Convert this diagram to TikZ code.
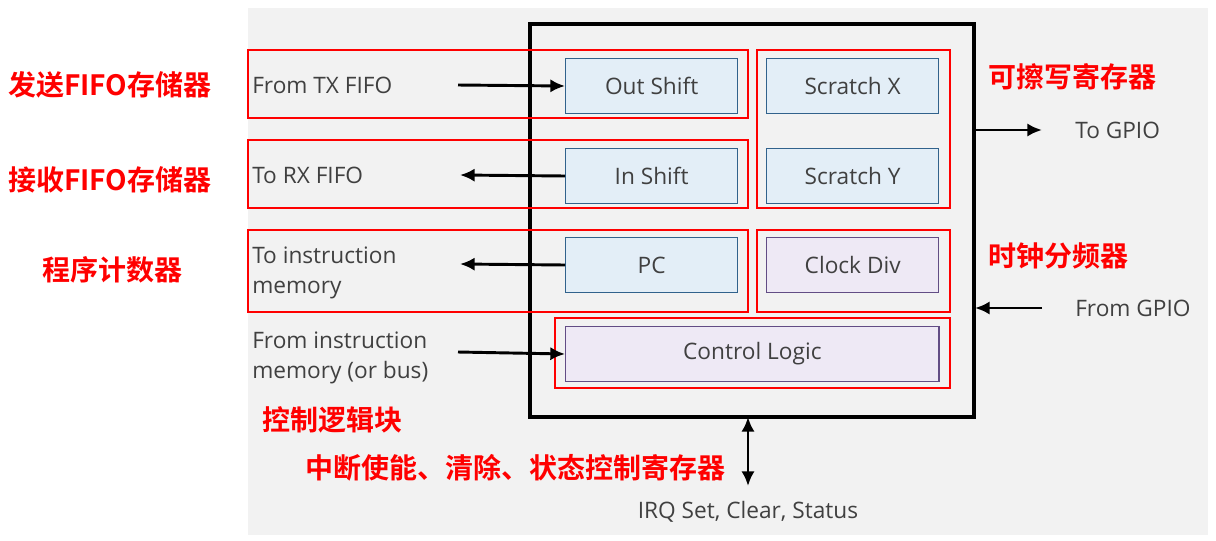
\documentclass[tikz,border=0pt]{standalone}
\usepackage{fontspec}
\usetikzlibrary{arrows.meta}
\setmainfont{Open Sans}
\newfontfamily\cjk{Noto Sans CJK SC}[BoldFont={* Bold}]
\begin{document}
\begin{tikzpicture}[x=0.75pt,y=-0.75pt,
 blk/.style={draw=#1!70!black,fill=#1!15,line width=1pt,inner sep=0pt,anchor=north west,font=\fontsize{17}{20}\selectfont,text=black!75},
 red/.style={draw=red,line width=2.2pt},
 lbl/.style={font=\fontsize{17}{22}\selectfont,text=black!75,anchor=west,align=left,inner sep=0pt},
 cn/.style={font=\cjk\bfseries\fontsize{21}{24}\selectfont,text=red,anchor=west,inner sep=0pt},
 tip/.style={Latex[length=11pt,width=10pt]},
 arr/.style={-{Latex[length=11pt,width=10pt]},line width=2.2pt}]
\useasboundingbox (0,0) rectangle (1216,540);
\fill[black!5] (248,8) rectangle (1208,535);
\node[draw,line width=3pt,minimum width=444pt*0.75,minimum height=393pt*0.75,anchor=north west,inner sep=0pt] (main) at (528,22) {};
\definecolor{bb}{RGB}{70,140,200}
\definecolor{pp}{RGB}{140,110,190}
\tikzset{bx/.style={blk=bb,minimum width=129pt,minimum height=41pt}}
\node[bx] (out) at (565,58) {Out Shift};
\node[bx] (in) at (565,148) {In Shift};
\node[bx] (pc) at (565,237) {PC};
\node[bx] (sx) at (766,58) {Scratch X};
\node[bx] (sy) at (766,148) {Scratch Y};
\node[bx,blk=pp] (cd) at (766,237) {Clock Div};
\node[blk=pp,minimum width=280pt,minimum height=41pt] (cl) at (565,326) {Control Logic};
\draw[red] (248,50) rectangle (748,118);
\draw[red] (248,140) rectangle (748,208);
\draw[red] (248,230) rectangle (748,312);
\draw[red] (757,50) rectangle (950,208);
\draw[red] (757,230) rectangle (950,312);
\draw[red] (555,318) rectangle (950,388);
\node[lbl] (tx) at (252,85) {From TX FIFO};
\node[lbl] (rx) at (252,175) {To RX FIFO};
\node[lbl] (im) at (252,273) {To instruction\\memory};
\node[lbl] (fi) at (252,358) {From instruction\\memory (or bus)};
\coordinate (a1) at (458,85); \draw[arr] (a1) -- (out.west);
\coordinate (a2) at (460,175); \draw[arr] (in.west) -- (a2);
\coordinate (a3) at (460,264); \draw[arr] (pc.west) -- (a3);
\coordinate (a4) at (458,352); \draw[arr] (a4) -- (cl.west);
\node[lbl] (tg) at (1075,130) {To GPIO};
\node[lbl] (fg) at (1075,308) {From GPIO};
\draw[arr] (973,130) -- (1042,130);
\draw[arr] (1042,308) -- (975,308);
\node[lbl,anchor=center] (irq) at (748,512) {IRQ Set, Clear, Status};
\draw[{Latex[length=11pt,width=10pt]}-{Latex[length=11pt,width=10pt]},line width=2.2pt] (748,417) -- (748,486);
\node[cn] at (8,85) {发送FIFO存储器};
\node[cn] at (8,180) {接收FIFO存储器};
\node[cn] at (42,270) {程序计数器};
\node[cn] at (988,77) {可擦写寄存器};
\node[cn] at (988,256) {时钟分频器};
\node[cn] at (262,420) {控制逻辑块};
\node[cn] at (305,468) {中断使能、清除、状态控制寄存器};
\end{tikzpicture}
\end{document}
